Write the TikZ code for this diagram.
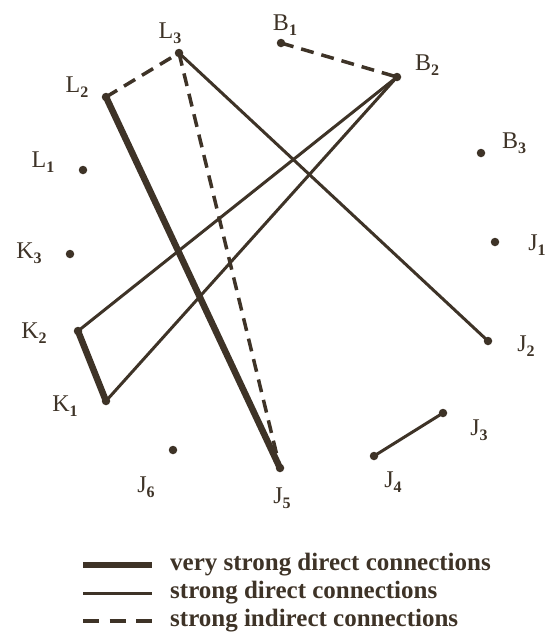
\documentclass[tikz,border=0pt]{standalone}
\usepackage{fontspec}
\setmainfont{Liberation Serif}
\usetikzlibrary{positioning}
\definecolor{inkbrown}{HTML}{3E3327}
\newcommand{\sublab}[2]{#1\raisebox{-0.45ex}{\fontsize{16}{16}\selectfont\bfseries #2}}

\begin{document}
\begin{tikzpicture}[x=1pt, y=-1pt,
  pt/.style={circle, fill=inkbrown, inner sep=0pt, minimum size=8.5pt},
  lab/.style={font=\fontsize{24}{26}\selectfont, text=inkbrown, inner sep=0pt},
  vstrong/.style={line width=6.5pt, color=inkbrown},
  strong/.style={line width=3pt, color=inkbrown},
  indirect/.style={line width=3.5pt, color=inkbrown, dash pattern=on 13pt off 8pt},
  legtext/.style={font=\fontsize{25}{27}\selectfont\bfseries, text=inkbrown,
    anchor=west, inner sep=0pt},
]
\useasboundingbox (0,0) rectangle (545,632);

% Points
\node[pt] (L1) at (83,170) {};
\node[pt] (L2) at (106,97) {};
\node[pt] (L3) at (179,53) {};
\node[pt] (B1) at (281,43) {};
\node[pt] (B2) at (397,77) {};
\node[pt] (B3) at (481,153) {};
\node[pt] (J1) at (495,242) {};
\node[pt] (J2) at (488,341) {};
\node[pt] (J3) at (443,413) {};
\node[pt] (J4) at (374,456) {};
\node[pt] (J5) at (280,468) {};
\node[pt] (J6) at (173,450) {};
\node[pt] (K1) at (106,401) {};
\node[pt] (K2) at (78,331) {};
\node[pt] (K3) at (70,254) {};

% Labels
\node[lab] (tL1) at ([shift={(-40,-8)}]L1) {\sublab{L}{1}};
\node[lab] (tL2) at ([shift={(-29,-10)}]L2) {\sublab{L}{2}};
\node[lab] (tL3) at ([shift={(-9,-20)}]L3) {\sublab{L}{3}};
\node[lab] (tB1) at ([shift={(4,-18)}]B1) {\sublab{B}{1}};
\node[lab] (tB2) at ([shift={(30,-12)}]B2) {\sublab{B}{2}};
\node[lab] (tB3) at ([shift={(33,-10)}]B3) {\sublab{B}{3}};
\node[lab] (tJ1) at ([shift={(42,3)}]J1) {\sublab{J}{1}};
\node[lab] (tJ2) at ([shift={(38,5)}]J2) {\sublab{J}{2}};
\node[lab] (tJ3) at ([shift={(36,17)}]J3) {\sublab{J}{3}};
\node[lab] (tJ4) at ([shift={(19,26)}]J4) {\sublab{J}{4}};
\node[lab] (tJ5) at ([shift={(2,30)}]J5) {\sublab{J}{5}};
\node[lab] (tJ6) at ([shift={(-27,37)}]J6) {\sublab{J}{6}};
\node[lab] (tK1) at ([shift={(-41,5)}]K1) {\sublab{K}{1}};
\node[lab] (tK2) at ([shift={(-44,2)}]K2) {\sublab{K}{2}};
\node[lab] (tK3) at ([shift={(-41,-1)}]K3) {\sublab{K}{3}};

% Connections
\draw[indirect] (L2.center) -- (L3.center);
\draw[indirect] (B1.center) -- (B2.center);
\draw[indirect] (L3.center) -- (J5.center);
\draw[vstrong] (L2.center) -- (J5.center);
\draw[vstrong] (K2.center) -- (K1.center);
\draw[strong] (L3.center) -- (J2.center);
\draw[strong] (B2.center) -- (K2.center);
\draw[strong] (B2.center) -- (K1.center);
\draw[strong] (J3.center) -- (J4.center);

% Legend
\node[legtext] (leg1) at (170,565) {very strong direct connections};
\node[legtext] (leg2) at (170,593) {strong direct connections};
\node[legtext] (leg3) at (170,621) {strong indirect connections};
\draw[vstrong] ([xshift=-87pt]leg1.west) -- ([xshift=-18pt]leg1.west);
\draw[strong] ([xshift=-87pt]leg2.west) -- ([xshift=-18pt]leg2.west);
\draw[indirect, dash pattern=on 16pt off 10.5pt] ([xshift=-87pt]leg3.west) -- ([xshift=-18pt]leg3.west);

\end{tikzpicture}
\end{document}
